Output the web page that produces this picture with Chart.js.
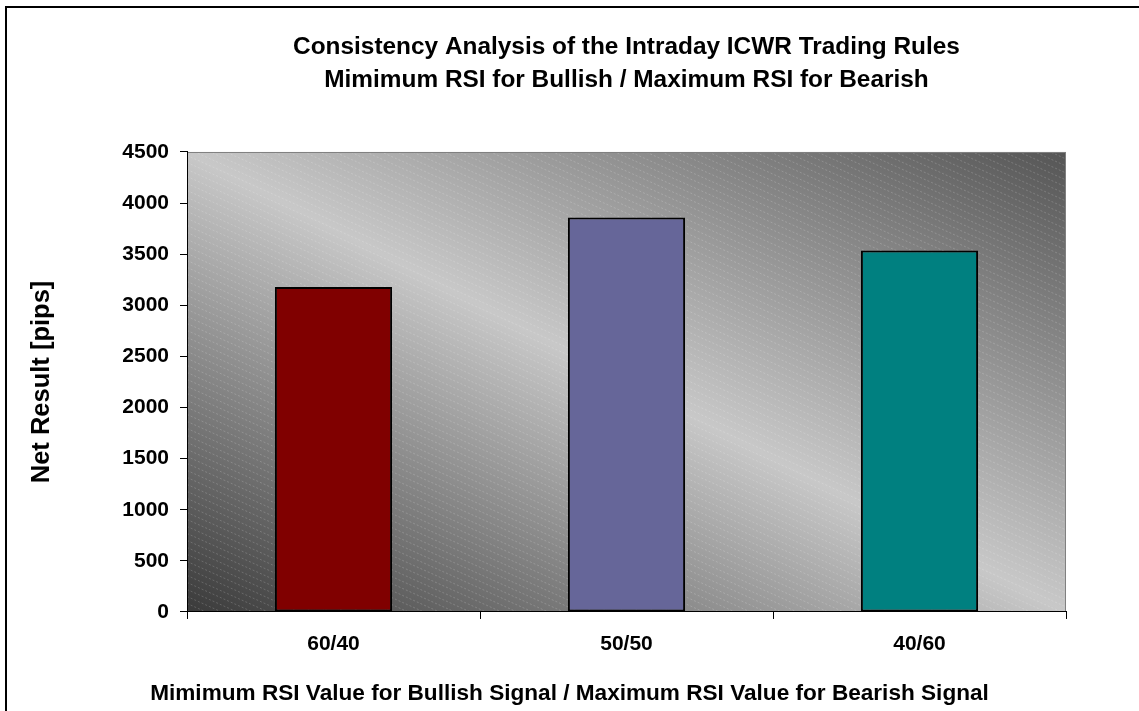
<!DOCTYPE html>
<html>
<head>
<meta charset="utf-8">
<script src="https://cdn.jsdelivr.net/npm/chart.js@4"></script>
<style>
  html, body { margin: 0; padding: 0; background: #fff; }
  canvas { display: block; }
</style>
</head>
<body>
<canvas id="grafico" width="1139" height="711"></canvas>
<script>
// dados
const categorias = ["60/40", "50/50", "40/60"];
const resultadoLiquido = [3180, 3860, 3535];
const tituloLinhas = [
  "Consistency Analysis of the Intraday ICWR Trading Rules",
  "Mimimum RSI for Bullish / Maximum RSI for Bearish",
];
const tituloX = "Mimimum RSI Value for Bullish Signal / Maximum RSI Value for Bearish Signal";
const tituloY = "Net Result [pips]";
const yMin = 0;
const yMax = 4500;
const yPasso = 500;

Chart.defaults.font.family = '"Liberation Sans", Arial, sans-serif';
Chart.defaults.color = "#000";

// fundo: moldura, degradê diagonal e listras da área de plotagem
const fundo = {
  id: "fundo",
  beforeDraw(chart) {
    const { ctx, chartArea: a } = chart;
    const w = a.right - a.left;
    const h = a.bottom - a.top;
    ctx.save();
    ctx.fillStyle = "#fff";
    ctx.fillRect(0, 0, chart.width, chart.height);
    ctx.strokeStyle = "#000";
    ctx.lineWidth = 2;
    ctx.beginPath();
    ctx.moveTo(6, chart.height);
    ctx.lineTo(6, 7);
    ctx.lineTo(chart.width, 7);
    ctx.stroke();

    ctx.save();
    ctx.translate(a.left, a.top);
    ctx.scale(w, h);
    const g = ctx.createLinearGradient(0, 1, 1, 0);
    g.addColorStop(0, "#3a3a3a");
    g.addColorStop(0.5, "#c8c8c8");
    g.addColorStop(1, "#555555");
    ctx.fillStyle = g;
    ctx.fillRect(0, 0, 1, 1);
    ctx.restore();

    ctx.beginPath();
    ctx.rect(a.left, a.top, w, h);
    ctx.clip();
    ctx.strokeStyle = "rgba(255,255,255,0.18)";
    ctx.lineWidth = 1;
    ctx.setLineDash([2, 2]);
    const inclinacao = 0.45;
    for (let y0 = a.top - w * inclinacao; y0 < a.bottom; y0 += 7) {
      ctx.beginPath();
      ctx.moveTo(a.left, y0);
      ctx.lineTo(a.right, y0 + w * inclinacao);
      ctx.stroke();
    }
    ctx.restore();

    ctx.save();
    ctx.strokeStyle = "#808080";
    ctx.lineWidth = 1;
    ctx.strokeRect(a.left + 0.5, a.top + 0.5, w - 1, h - 1);
    ctx.restore();
  },
};

const ctx = document.getElementById("grafico").getContext("2d");

const config = {
  type: "bar",
  data: {
    labels: categorias,
    datasets: [
      {
        data: resultadoLiquido,
        backgroundColor: ["#800000", "#666699", "#008080"],
        borderColor: "#000",
        borderWidth: 2,
        borderSkipped: false,
        barPercentage: 0.4,
        categoryPercentage: 1,
      },
    ],
  },
  options: {
    responsive: false,
    animation: false,
    layout: { padding: 0 },
    plugins: {
      legend: { display: false },
      tooltip: { enabled: false },
      title: {
        display: true,
        fullSize: false,
        text: tituloLinhas,
        color: "#000",
        font: { size: 24.4, weight: "bold", lineHeight: 1.35 },
        padding: { top: 30.5, bottom: 55.6 },
      },
      subtitle: {
        display: true,
        position: "bottom",
        text: tituloX,
        color: "#000",
        font: { size: 22.6, weight: "bold", lineHeight: 1.2 },
        padding: { top: 0, bottom: 4 },
      },
    },
    scales: {
      x: {
        grid: {
          drawOnChartArea: false,
          drawTicks: true,
          tickLength: 7,
          color: "#000",
          offset: true,
        },
        border: { color: "#000", width: 1 },
        ticks: { color: "#000", font: { size: 21, weight: "bold" }, padding: 13 },
        afterFit(s) {
          s.height = 67.9;
        },
      },
      y: {
        min: yMin,
        max: yMax,
        ticks: {
          stepSize: yPasso,
          color: "#000",
          font: { size: 21, weight: "bold" },
          padding: 11,
          callback: (v) => String(v),
        },
        grid: { drawOnChartArea: false, tickLength: 7, color: "#000" },
        border: { color: "#000", width: 1 },
        title: {
          display: true,
          text: tituloY,
          color: "#000",
          font: { size: 25.5, weight: "bold" },
          padding: { top: 27, bottom: 0 },
        },
        afterFit(s) {
          s.width = 187;
        },
      },
      // eixo vazio à direita só para reservar a margem
      margem: {
        position: "right",
        display: true,
        grid: { display: false },
        border: { display: false },
        ticks: { display: false },
        afterFit(s) {
          s.width = 73;
        },
      },
    },
  },
  plugins: [fundo],
};

const chart = new Chart(ctx, config);
</script>
</body>
</html>
